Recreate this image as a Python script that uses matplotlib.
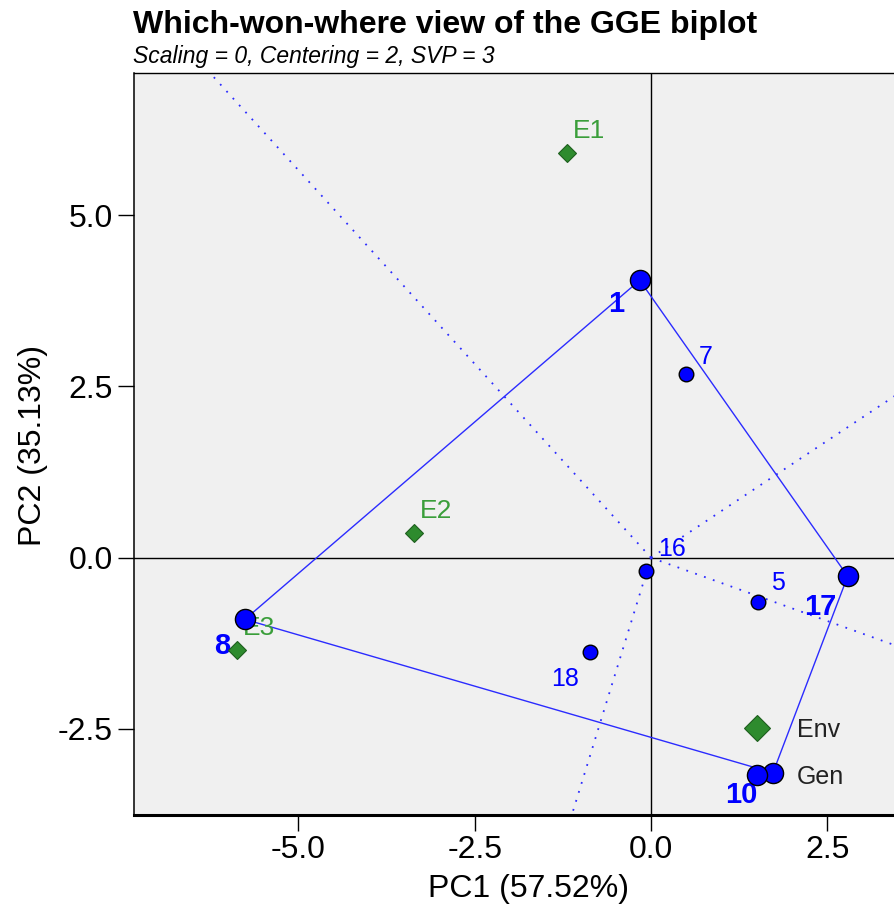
import numpy as np
import matplotlib
matplotlib.use("Agg")
import matplotlib.pyplot as plt
from matplotlib.lines import Line2D

plt.rcParams['font.family'] = ['Liberation Sans', 'DejaVu Sans']

# genotype scores (PC1, PC2) #
gen_labels = ['1', '7', '16', '5', '17', '18', '8', '10']
gen_pc1 = [-0.16, 0.50, -0.07, 1.52, 2.79, -0.87, -5.76, 1.73]
gen_pc2 = [4.05, 2.68, -0.19, -0.65, -0.27, -1.38, -0.90, -3.14]

# environment scores #
env_labels = ['E1', 'E2', 'E3']
env_pc1 = [-1.19, -3.36, -5.87]
env_pc2 = [5.91, 0.36, -1.35]

# vertex genotypes of the polygon, in drawing order #
hull = ['1', '17', '10', '8']

x_ticks = [-5.0, -2.5, 0.0, 2.5]
y_ticks = [-2.5, 0.0, 2.5, 5.0]

# label offsets in points #
gen_offsets = {'1': (-17, -17), '7': (14, 12), '16': (19, 16), '5': (14, 14),
               '17': (-20, -22), '18': (-18, -19), '8': (-16, -19), '10': (-23, -16)}
env_offset = (16, 16)

blue = '#0000FF'
line_blue = '#2B2BFF'
green = '#2E8B2E'
green_txt = '#3A9E3A'

fig = plt.figure(figsize=(8.94, 9.16), dpi=100)
ax = fig.add_axes([134/894, 101/916, 760/894, 742/916])
ax.set_facecolor('#F0F0F0')
ax.set_xlim(-7.333, 3.447)
ax.set_ylim(-3.756, 7.076)

# axes through the origin #
ax.axhline(0, color='black', lw=1.0, zorder=1)
ax.axvline(0, color='black', lw=1.0, zorder=1)

gx = dict(zip(gen_labels, gen_pc1))
gy = dict(zip(gen_labels, gen_pc2))
hx = np.array([gx[g] for g in hull])
hy = np.array([gy[g] for g in hull])

# rays from origin perpendicular to each side #
for i in range(len(hull)):
    p = np.array([hx[i], hy[i]])
    q = np.array([hx[(i+1) % len(hull)], hy[(i+1) % len(hull)]])
    d = q - p
    t = -np.dot(p, d) / np.dot(d, d)
    f = p + t*d
    f = f / np.linalg.norm(f) * 30
    ax.plot([0, f[0]], [0, f[1]], color=line_blue, lw=1.3,
            linestyle=(0, (1, 4.2)), zorder=2)

# polygon #
ax.plot(np.append(hx, hx[0]), np.append(hy, hy[0]), color=line_blue, lw=1.0, zorder=2)

# genotype labels #
for g, x, y in zip(gen_labels, gen_pc1, gen_pc2):
    if g in hull:
        ax.annotate(g, (x, y), xytext=gen_offsets[g], textcoords='offset points',
                    ha='center', va='center', fontsize=21, fontweight='bold',
                    color=blue, zorder=3)
    else:
        ax.annotate(g, (x, y), xytext=gen_offsets[g], textcoords='offset points',
                    ha='center', va='center', fontsize=18, color=blue, zorder=3)

# environments #
ax.plot(env_pc1, env_pc2, linestyle='none', marker='D', markersize=9,
        markerfacecolor=green, markeredgecolor='#1E5E1E', markeredgewidth=0.8, zorder=4)
for e, x, y in zip(env_labels, env_pc1, env_pc2):
    ax.annotate(e, (x, y), xytext=env_offset, textcoords='offset points',
                ha='center', va='center', fontsize=19, color=green_txt, zorder=5)

# genotypes: vertex ones drawn larger #
big = [g in hull for g in gen_labels]
ax.plot([x for x, b in zip(gen_pc1, big) if b], [y for y, b in zip(gen_pc2, big) if b],
        linestyle='none', marker='o', markersize=14.5, markerfacecolor=blue,
        markeredgecolor='black', markeredgewidth=1.0, zorder=6)
ax.plot([x for x, b in zip(gen_pc1, big) if not b], [y for y, b in zip(gen_pc2, big) if not b],
        linestyle='none', marker='o', markersize=10.5, markerfacecolor=blue,
        markeredgecolor='black', markeredgewidth=1.0, zorder=6)

# legend #
handles = [Line2D([], [], linestyle='none', marker='D', markersize=13.5,
                  markerfacecolor=green, markeredgecolor='#1E5E1E', markeredgewidth=0.8),
           Line2D([], [], linestyle='none', marker='o', markersize=14.5,
                  markerfacecolor=blue, markeredgecolor='black', markeredgewidth=1.0)]
leg = ax.legend(handles, ['Env', 'Gen'], loc='upper left', bbox_to_anchor=(0.787, 0.131),
                frameon=False, fontsize=18, borderpad=0, borderaxespad=0,
                handlelength=2.0, handletextpad=0.6, labelspacing=0.92, numpoints=1)
for t in leg.get_texts():
    t.set_color('#222222')
leg.set_zorder(7)

# ticks and spines #
ax.set_xticks(x_ticks)
ax.set_xticklabels([f'{v:.1f}' for v in x_ticks])
ax.set_yticks(y_ticks)
ax.set_yticklabels([f'{v:.1f}' for v in y_ticks])
ax.tick_params(axis='both', direction='out', length=11.5, width=1.0,
               labelsize=23, colors='black')
ax.tick_params(axis='x', pad=3)
ax.tick_params(axis='y', pad=3.6)
ax.spines['bottom'].set_linewidth(2.2)
ax.spines['left'].set_linewidth(1.1)
ax.spines['top'].set_linewidth(1.0)
ax.spines['right'].set_visible(False)

fig.text(33/894, (916-445)/916, 'PC2 (35.13%)', rotation=90, ha='center', va='center',
         fontsize=23)
fig.text(529/894, (916-889)/916, 'PC1 (57.52%)', ha='center', va='center', fontsize=23)
fig.text(133/894, (916-33)/916, 'Which-won-where view of the GGE biplot',
         ha='left', va='baseline', fontsize=23, fontweight='bold')
fig.text(133/894, (916-63)/916, 'Scaling = 0, Centering = 2, SVP = 3',
         ha='left', va='baseline', fontsize=16.5, fontstyle='italic')

fig.savefig('out.png', dpi=100)
